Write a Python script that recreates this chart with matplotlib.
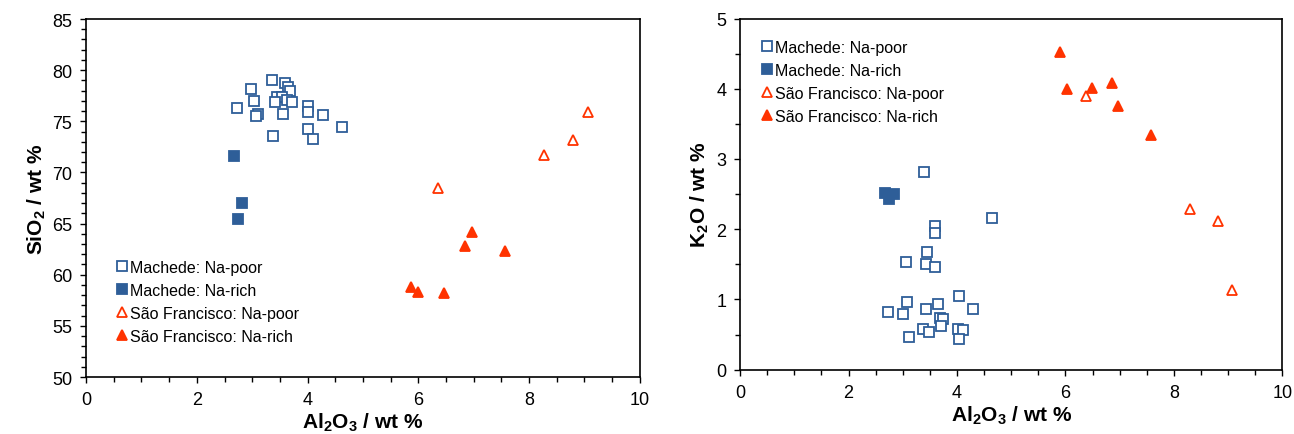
import matplotlib
matplotlib.use('Agg')
import matplotlib.pyplot as plt
from matplotlib.ticker import MultipleLocator

plt.rcParams['font.family'] = ['Liberation Sans', 'DejaVu Sans']
plt.rcParams['mathtext.fontset'] = 'custom'
plt.rcParams['mathtext.rm'] = 'Liberation Sans'
plt.rcParams['mathtext.bf'] = 'Liberation Sans:bold'

# Left panel: Al2O3 vs SiO2 (wt %)
mach_poor_al_l = [2.72, 2.98, 3.36, 3.04, 3.10, 3.07, 3.59, 3.65, 3.68, 3.44, 3.54,
                  3.42, 3.62, 3.72, 3.56, 4.01, 4.01, 4.28, 4.63, 4.00, 4.10, 3.38]
mach_poor_si = [76.3, 78.2, 79.0, 77.0, 75.7, 75.5, 78.7, 78.4, 78.0, 77.4, 77.4,
                76.9, 77.1, 76.9, 75.7, 76.5, 75.9, 75.6, 74.4, 74.2, 73.3, 73.6]
mach_rich_al_l = [2.67, 2.82, 2.74]
mach_rich_si = [71.6, 67.0, 65.4]
sf_poor_al_l = [9.07, 8.80, 8.27, 6.36]
sf_poor_si = [75.9, 73.2, 71.7, 68.5]
sf_rich_al_l = [6.96, 6.84, 7.56, 5.87, 6.00, 6.46]
sf_rich_si = [64.2, 62.8, 62.3, 58.8, 58.3, 58.2]

# Right panel: Al2O3 vs K2O (wt %)
mach_poor_al_r = [3.39, 4.65, 3.59, 3.60, 3.45, 3.06, 3.42, 3.59, 4.03, 3.08, 3.65, 2.73,
                  3.00, 3.43, 4.29, 3.69, 3.74, 3.71, 3.37, 3.49, 4.01, 4.11, 4.03, 3.12]
mach_poor_k = [2.81, 2.16, 2.05, 1.95, 1.68, 1.53, 1.51, 1.46, 1.05, 0.97, 0.94, 0.82,
               0.79, 0.86, 0.86, 0.73, 0.72, 0.62, 0.58, 0.54, 0.58, 0.56, 0.43, 0.46]
mach_rich_al_r = [2.68, 2.83, 2.75]
mach_rich_k = [2.52, 2.50, 2.43]
sf_poor_al_r = [6.38, 8.29, 8.82, 9.08]
sf_poor_k = [3.90, 2.29, 2.11, 1.13]
sf_rich_al_r = [5.89, 6.02, 6.48, 6.85, 6.97, 7.57]
sf_rich_k = [4.52, 4.00, 4.01, 4.08, 3.76, 3.34]

labels = ['Machede: Na-poor', 'Machede: Na-rich',
          'São Francisco: Na-poor', 'São Francisco: Na-rich']

blue = '#2E5E98'
red = '#FF3300'


def draw(ax, mp, mr, sp, sr):
    ax.plot(mp[0], mp[1], 's', ms=7.5, mfc='white', mec=blue, mew=1.3, ls='none', label=labels[0])
    ax.plot(mr[0], mr[1], 's', ms=7.5, mfc=blue, mec=blue, mew=1.3, ls='none', label=labels[1])
    ax.plot(sp[0], sp[1], '^', ms=7.5, mfc='white', mec=red, mew=1.3, ls='none', label=labels[2])
    ax.plot(sr[0], sr[1], '^', ms=7.5, mfc=red, mec=red, mew=1.3, ls='none', label=labels[3])
    ax.set_xlim(0, 10)
    ax.xaxis.set_major_locator(MultipleLocator(2))
    ax.xaxis.set_minor_locator(MultipleLocator(0.5))
    ax.tick_params(which='both', direction='out', top=False, right=False, labelsize=13, pad=6)
    ax.tick_params(which='major', length=4, width=1)
    ax.tick_params(which='minor', length=3.5, width=1)
    for s in ax.spines.values():
        s.set_linewidth(1.2)
    ax.set_xlabel(r'Al$_\mathbf{2}$O$_\mathbf{3}$ / wt %', fontsize=15, fontweight='bold', labelpad=2)


fig = plt.figure(figsize=(12.94, 4.35), dpi=100)
ax1 = fig.add_axes([0.0665, 0.131, 0.428, 0.823])
ax2 = fig.add_axes([0.572, 0.148, 0.419, 0.807])

draw(ax1, (mach_poor_al_l, mach_poor_si), (mach_rich_al_l, mach_rich_si),
     (sf_poor_al_l, sf_poor_si), (sf_rich_al_l, sf_rich_si))
ax1.set_ylim(50, 85)
ax1.yaxis.set_major_locator(MultipleLocator(5))
ax1.yaxis.set_minor_locator(MultipleLocator(1))
ax1.set_ylabel(r'SiO$_\mathbf{2}$ / wt %', fontsize=15, fontweight='bold', labelpad=3)
ax1.legend(loc='upper left', bbox_to_anchor=(0.055, 0.328), frameon=False, fontsize=11.5,
           handlelength=0.7, handletextpad=0.15, labelspacing=0.5, borderpad=0, borderaxespad=0)

draw(ax2, (mach_poor_al_r, mach_poor_k), (mach_rich_al_r, mach_rich_k),
     (sf_poor_al_r, sf_poor_k), (sf_rich_al_r, sf_rich_k))
ax2.set_ylim(0, 5)
ax2.yaxis.set_major_locator(MultipleLocator(1))
ax2.yaxis.set_minor_locator(MultipleLocator(0.5))
ax2.set_ylabel(r'K$_\mathbf{2}$O / wt %', fontsize=15, fontweight='bold', labelpad=4)
ax2.legend(loc='upper left', bbox_to_anchor=(0.04, 0.94), frameon=False, fontsize=11.5,
           handlelength=0.7, handletextpad=0.15, labelspacing=0.5, borderpad=0, borderaxespad=0)

fig.savefig('out.png', dpi=100)
